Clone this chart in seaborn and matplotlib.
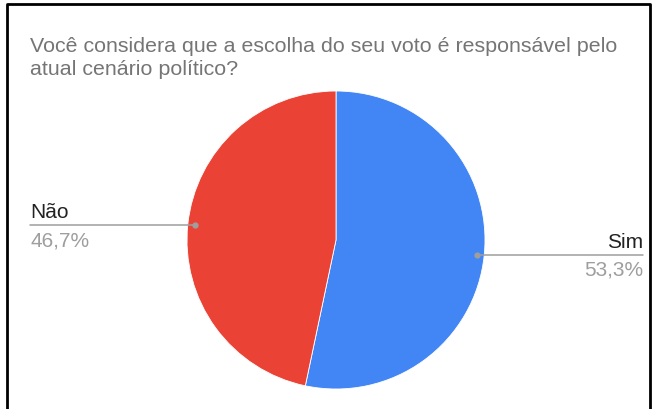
import numpy as np
import matplotlib
matplotlib.use("Agg")
import matplotlib.pyplot as plt
import seaborn as sns

title = "Você considera que a escolha do seu voto é responsável pelo\natual cenário político?"
categories = ["Sim", "Não"]
values = [53.3, 46.7]
pct_labels = ["53,3%", "46,7%"]
colors = ["#4285F4", "#EA4335"]

sns.set_theme(style="white")
plt.rcParams['font.family'] = ['Liberation Sans', 'DejaVu Sans']

W, H = 653, 410
fig = plt.figure(figsize=(W / 100, H / 100), dpi=100)
ax = fig.add_axes([0, 0, 1, 1])

cx, cy, r = 336, H - 241, 149
wedges, _ = ax.pie(values, colors=colors, startangle=90, counterclock=False,
                   center=(cx, cy), radius=r, frame=True,
                   wedgeprops=dict(linewidth=0.6, edgecolor="white"))
ax.set_xlim(0, W)
ax.set_ylim(0, H)
ax.axis("off")

# border (left, top, right)
ax.plot([7, 7, 650, 650], [0, H - 5, H - 5, 0], color="black", lw=2, solid_capstyle="butt")

ax.text(30, H - 58, title, ha="left", va="center", fontsize=15.4, color="#757575",
        linespacing=1.25)

for w, cat, pct in zip(wedges, categories, pct_labels):
    ang = np.deg2rad((w.theta1 + w.theta2) / 2)
    px = cx + 0.95 * r * np.cos(ang)
    py = cy + 0.95 * r * np.sin(ang)
    if np.cos(ang) > 0:
        xe, ha = 643, "right"
    else:
        xe, ha = 30, "left"
    ax.plot([px, xe], [py, py], color="#9e9e9e", lw=1.1)
    ax.plot(px, py, "o", color="#9e9e9e", ms=3.5)
    ax.text(xe, py + 4, cat, ha=ha, va="bottom", fontsize=15, color="#222222")
    ax.text(xe, py - 5, pct, ha=ha, va="top", fontsize=15, color="#9e9e9e")

fig.savefig("out.png", dpi=100, facecolor="white")
